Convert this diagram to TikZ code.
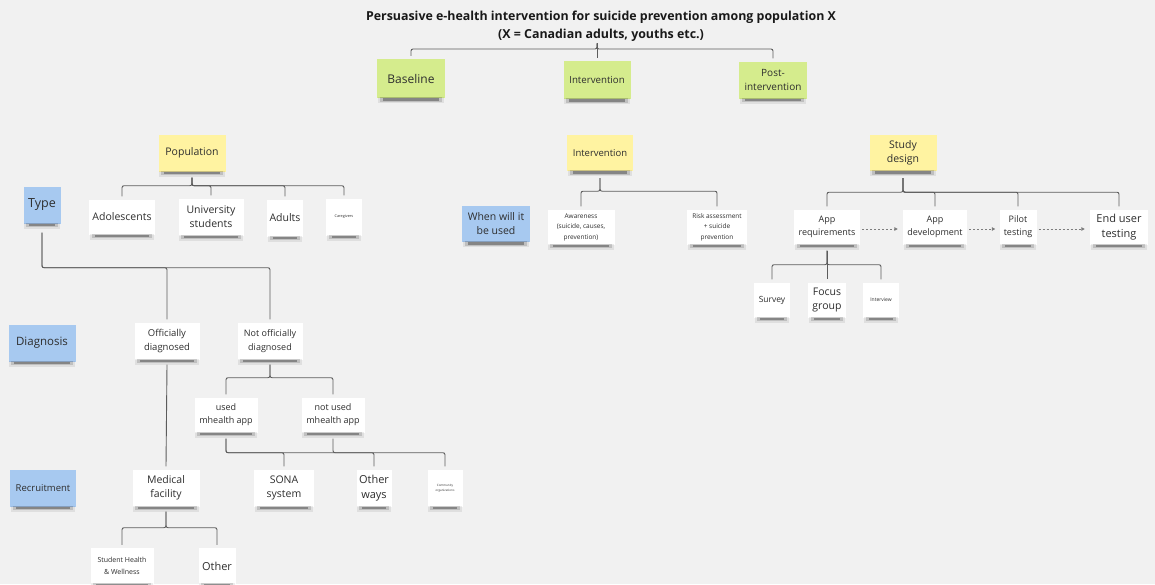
\documentclass[tikz,border=0pt]{standalone}
\usepackage{fontspec}
\setmainfont{Open Sans}
\usetikzlibrary{calc,arrows.meta}
\definecolor{bg}{HTML}{F1F1F1}
\definecolor{gnote}{HTML}{D5EC8D}
\definecolor{ynote}{HTML}{FFF3A1}
\definecolor{bnote}{HTML}{A7C9F0}
\definecolor{txt}{HTML}{2E2E2E}
\definecolor{lin}{HTML}{5C5C5C}
\newcommand\shd[1]{%
  \fill[black,opacity=0.07] ($(#1.south west)+(1,-1)$) rectangle ($(#1.south east)+(-1,5)$);
  \fill[black,opacity=0.14] ($(#1.south west)+(3,-1)$) rectangle ($(#1.south east)+(-3,3.5)$);
  \fill[black,opacity=0.30] ($(#1.south west)+(6,0)$) rectangle ($(#1.south east)+(-6,2.5)$);}
\newcommand\branch[4]{\draw[conn] ($(#1.south)+(0,#3)$) -- ($(#1.south)+(0,#4)$) -| ($(#2.north)+(0,-3)$);}
\begin{document}
\begin{tikzpicture}[x=1pt,y=-1pt,
  f/.style 2 args={font=\fontsize{#1}{#2}\selectfont},
  note/.style={fill=white,align=center,inner sep=0pt,text=txt},
  gn/.style={note,fill=gnote},
  yn/.style={note,fill=ynote},
  bn/.style={note,fill=bnote},
  conn/.style={draw=lin,line width=0.9pt,rounded corners=2pt},
  darr/.style={draw=lin!80,line width=0.9pt,dash pattern=on 2pt off 2pt,-{Triangle[length=3.5pt,width=3.5pt]}}]
\fill[bg] (0,0) rectangle (1155,584);
\useasboundingbox (0,0) rectangle (1155,584);

\node[text=black!90,font=\fontsize{12.4}{18}\selectfont\bfseries,align=center,inner sep=1pt] (title) at (601,26)
  {Persuasive e-health intervention for suicide prevention among population X\\(X = Canadian adults, youths etc.)};

% phases
\node[gn,minimum width=68,minimum height=39,f={12}{15}] (base) at (411,78.5) {Baseline};
\node[gn,minimum width=67,minimum height=38,f={9.7}{13}] (intv) at (597,80) {Intervention};
\node[gn,minimum width=68,minimum height=37,f={10}{13.5}] (post) at (773,80) {Post-\\intervention};

% headers
\node[yn,minimum width=67,minimum height=37,f={10.5}{14}] (pop) at (192,153) {Population};
\node[yn,minimum width=66,minimum height=36,f={9.5}{13}] (intv2) at (600,153) {Intervention};
\node[yn,minimum width=67,minimum height=36,f={10.5}{14}] (study) at (903,153) {Study\\design};

% row labels
\node[bn,minimum width=37,minimum height=37,f={12.5}{15}] (type) at (42,205) {Type};
\node[bn,minimum width=68,minimum height=36,f={10.5}{14}] (when) at (496,224) {When will it\\be used};
\node[bn,minimum width=67,minimum height=37,f={11.5}{15}] (diag) at (42,343) {Diagnosis};
\node[bn,minimum width=66,minimum height=37,f={9.5}{12}] (recr) at (43,488) {Recruitment};

% population
\node[note,minimum width=66,minimum height=35,f={10.5}{14}] (ado) at (122,217) {Adolescents};
\node[note,minimum width=65,minimum height=37,f={10.5}{14}] (uni) at (211,217) {University\\students};
\node[note,minimum width=36,minimum height=37,f={10.5}{14}] (adults) at (285,218) {Adults};
\node[note,minimum width=36,minimum height=37,f={3.8}{5}] (care) at (344,217) {Caregivers};

% intervention
\node[note,minimum width=67,minimum height=35,f={6.5}{10.5}] (aware) at (581,227) {Awareness\\(suicide, causes,\\prevention)};
\node[note,minimum width=60,minimum height=35,f={6.5}{10.5}] (risk) at (717,227) {Risk assessment\\+ suicide\\prevention};

% study design
\node[note,minimum width=66,minimum height=35,f={9}{13}] (appreq) at (827,227) {App\\requirements};
\node[note,minimum width=64,minimum height=35,f={9}{13}] (appdev) at (935,227) {App\\development};
\node[note,minimum width=37,minimum height=35,f={9}{13}] (pilot) at (1018,227) {Pilot\\testing};
\node[note,minimum width=58,minimum height=35,f={11}{14.5}] (enduser) at (1119,227) {End user\\testing};
\node[note,minimum width=36,minimum height=35,f={8.5}{12}] (survey) at (772,300) {Survey};
\node[note,minimum width=38,minimum height=35,f={10.5}{14}] (focus) at (827,300) {Focus\\group};
\node[note,minimum width=36,minimum height=35,f={5}{7}] (interview) at (881,300) {Interview};

% diagnosis
\node[note,minimum width=65,minimum height=37,f={9.5}{14}] (off) at (167,341) {Officially\\diagnosed};
\node[note,minimum width=65,minimum height=37,f={9}{14}] (notoff) at (270,341) {Not officially\\diagnosed};
\node[note,minimum width=63,minimum height=35,f={9}{13}] (used) at (226,415) {used\\mhealth app};
\node[note,minimum width=63,minimum height=35,f={9}{13}] (notused) at (333,415) {not used\\mhealth app};

% recruitment
\node[note,minimum width=67,minimum height=37,f={10.5}{14}] (med) at (166,488) {Medical\\facility};
\node[note,minimum width=60,minimum height=37,f={10.5}{14}] (sona) at (284,488) {SONA\\system};
\node[note,minimum width=35,minimum height=37,f={11}{14.5}] (otherw) at (374,488) {Other\\ways};
\node[note,minimum width=35,minimum height=37,f={3}{4.5}] (comm) at (445,488) {Community\\organizations};
\node[note,minimum width=63,minimum height=36,f={7}{12}] (shw) at (122,566) {Student Health\\\& Wellness};
\node[note,minimum width=37,minimum height=36,f={11}{14}] (other) at (217,566) {Other};

\foreach \n in {base,intv,post,pop,intv2,study,type,when,diag,recr,ado,uni,adults,care,aware,risk,appreq,appdev,pilot,enduser,survey,focus,interview,off,notoff,used,notused,med,sona,otherw,comm,shw,other}
  {\shd{\n}}

% connectors
\foreach \c in {base,intv,post}
  {\draw[conn] (title.south -| intv.north) ++(0,1) -- (597,49) -| ($(\c.north)+(0,-3)$);}
\foreach \c in {ado,uni,adults,care} {\branch{pop}{\c}{6}{14}}
\foreach \c in {aware,risk} {\branch{intv2}{\c}{7}{20}}
\foreach \c in {appreq,appdev,pilot,enduser} {\branch{study}{\c}{7}{21}}
\foreach \c in {survey,focus,interview} {\branch{appreq}{\c}{6}{20}}
\foreach \c in {off,notoff} {\branch{type}{\c}{9}{44}}
\foreach \c in {used,notused} {\branch{notoff}{\c}{5}{18}}
\draw[conn] ($(off.south)+(0,5)$) -- ($(med.north)+(0,-3)$);
\foreach \c in {sona,comm} {\branch{used}{\c}{6}{20}}
\branch{notused}{otherw}{6}{20}
\foreach \c in {shw,other} {\branch{med}{\c}{5}{21}}

\draw[darr] ($(appreq.east)+(2,2)$) -- ($(appdev.west)+(-5,2)$);
\draw[darr] ($(appdev.east)+(2,2)$) -- ($(pilot.west)+(-4,2)$);
\draw[darr] ($(pilot.east)+(2,2)$) -- ($(enduser.west)+(-5,2)$);
\end{tikzpicture}
\end{document}
